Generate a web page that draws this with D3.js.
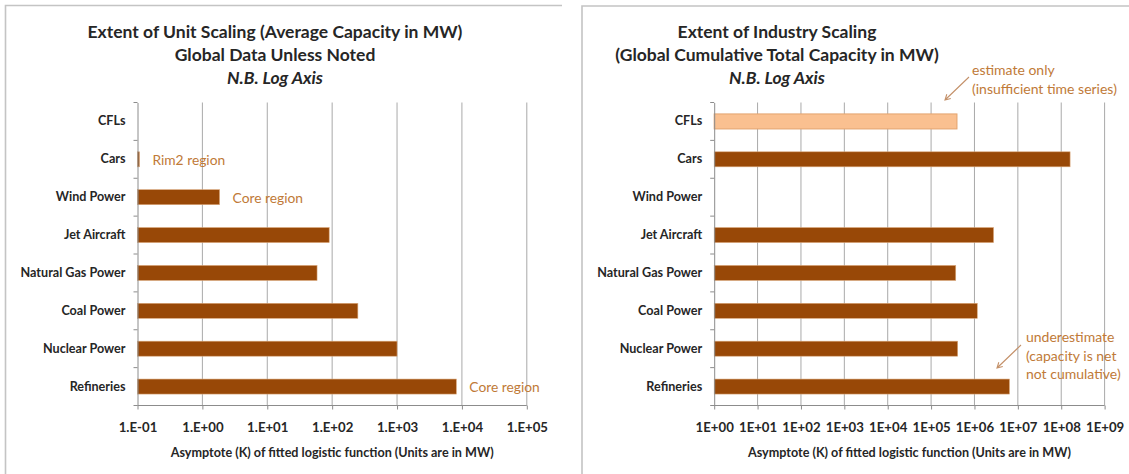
<!DOCTYPE html>
<html>
<head>
<meta charset="utf-8">
<script src="https://cdn.jsdelivr.net/npm/d3@7"></script>
<style>
  html, body { margin: 0; padding: 0; background: #ffffff; }
  svg { display: block; }
  text { font-family: Lato, "Open Sans", sans-serif; }
</style>
</head>
<body>
<svg id="chart" width="1129" height="474"></svg>
<script>
// ---------------- DATA ----------------
const categories = ["CFLs", "Cars", "Wind Power", "Jet Aircraft", "Natural Gas Power", "Coal Power", "Nuclear Power", "Refineries"];

// Left chart: unit scaling, average capacity (MW)
const unitValues = [null, 0.107, 1.84, 90, 58.5, 249, 1000, 8200];
const unitTicks = [0.1, 1, 10, 100, 1e3, 1e4, 1e5];
const unitTickLabels = ["1.E-01", "1.E+00", "1.E+01", "1.E+02", "1.E+03", "1.E+04", "1.E+05"];
const unitNoteCats = ["Cars", "Wind Power", "Refineries"];
const unitNoteTexts = ["Rim2 region", "Core region", "Core region"];
const unitTitle = ["Extent of Unit Scaling (Average Capacity in MW)", "Global Data Unless Noted", "N.B. Log Axis"];

// Right chart: industry scaling, global cumulative total capacity (MW)
const industryValues = [3.95e5, 1.6e8, null, 2.75e6, 3.7e5, 1.16e6, 4.1e5, 6.4e6];
const industryEstimated = [true, false, false, false, false, false, false, false];
const industryTicks = [1, 10, 100, 1e3, 1e4, 1e5, 1e6, 1e7, 1e8, 1e9];
const industryTickLabels = ["1E+00", "1E+01", "1E+02", "1E+03", "1E+04", "1E+05", "1E+06", "1E+07", "1E+08", "1E+09"];
const industryTitle = ["Extent of Industry Scaling", "(Global Cumulative Total Capacity in MW)", "N.B. Log Axis"];
const estimateNote = ["estimate only", "(insufficient time series)"];
const underNote = ["underestimate", "(capacity is net", "not cumulative)"];

const axisTitleText = "Asymptote (K) of fitted logistic function (Units are in MW)";

// ---------------- STYLE ----------------
const BAR = "#984807";
const BAR_LIGHT = "#fac090";
const NOTE = "#c07a38";
const ARROW = "#c4916a";
const GRID = "#a9a9a9";
const TEXT = "#262626";

const svg = d3.select("#chart");

// panel frames
function frame(x0, y0, x1) {
  svg.append("path")
    .attr("d", `M${x0},474 L${x0},${y0} L${x1},${y0}`)
    .attr("fill", "none").attr("stroke", "#c4c4c4").attr("stroke-width", 1.6);
}
frame(5.5, 5.5, 562);
frame(582, 6, 1129);

const plotTop = 102.5, plotBottom = 405.5;

function drawChart(opts) {
  const { xDomain, xRange, values, ticks, tickLabels, titleLines, titleX, estimated } = opts;
  const x = d3.scaleLog().domain(xDomain).range(xRange);
  const y = d3.scaleBand().domain(categories).range([plotTop, plotBottom])
    .paddingInner(0.604).paddingOuter(0.302);
  const g = svg.append("g");

  // gridlines
  g.selectAll(".grid").data(ticks.slice(1)).enter().append("line")
    .attr("x1", d => x(d)).attr("x2", d => x(d))
    .attr("y1", plotTop).attr("y2", plotBottom)
    .attr("stroke", GRID).attr("stroke-width", 1);

  // bars
  const rows = categories.map((c, i) => ({ c, v: values[i], est: estimated ? estimated[i] : false }))
    .filter(d => d.v != null);
  g.selectAll(".bar").data(rows).enter().append("rect")
    .attr("x", x(xDomain[0]))
    .attr("y", d => y(d.c))
    .attr("width", d => x(d.v) - x(xDomain[0]))
    .attr("height", y.bandwidth())
    .attr("fill", d => d.est ? BAR_LIGHT : BAR)
    .attr("stroke", d => d.est ? "#e3a46e" : "#d9a679")
    .attr("stroke-width", d => d.est ? 1 : 0.6);

  // y axis (category)
  const yAxis = d3.axisLeft(y).tickSize(0).tickPadding(12);
  const ya = g.append("g").attr("transform", `translate(${x(xDomain[0])},0)`).call(yAxis);
  ya.select(".domain").attr("stroke", "#8c8c8c");
  ya.selectAll("text").attr("fill", TEXT).attr("font-size", 12.6).attr("font-weight", 700)
    .style("font-family", "Lato, 'Open Sans', sans-serif");
  // category boundary ticks
  const bounds = d3.range(categories.length + 1).map(i => plotTop + i * y.step());
  g.selectAll(".ctick").data(bounds).enter().append("line")
    .attr("x1", x(xDomain[0]) - 4).attr("x2", x(xDomain[0]))
    .attr("y1", d => d).attr("y2", d => d)
    .attr("stroke", "#8c8c8c");

  // x axis
  const xAxis = d3.axisBottom(x).tickValues(ticks).tickSize(4).tickPadding(13)
    .tickFormat((d, i) => tickLabels[i]);
  const xa = g.append("g").attr("transform", `translate(0,${plotBottom})`).call(xAxis);
  xa.select(".domain").attr("stroke", "#8c8c8c").attr("d", `M${xRange[0]},0H${xRange[1]}`);
  xa.selectAll(".tick line").attr("stroke", "#8c8c8c");
  xa.selectAll("text").attr("fill", TEXT).attr("font-size", 13.2).attr("font-weight", 700)
    .style("font-family", "Lato, 'Open Sans', sans-serif");

  // axis title
  g.append("text").attr("x", (xRange[0] + xRange[1]) / 2).attr("y", 452)
    .attr("text-anchor", "middle").attr("dominant-baseline", "central")
    .attr("font-size", 12.6).attr("font-weight", 700).attr("fill", TEXT)
    .text(axisTitleText);

  // chart title
  const ty = [31.7, 54, 77.5];
  titleLines.forEach((t, i) => {
    g.append("text").attr("x", titleX).attr("y", ty[i])
      .attr("text-anchor", "middle").attr("dominant-baseline", "central")
      .attr("font-size", 17.5).attr("font-weight", 700)
      .attr("font-style", i === 2 ? "italic" : "normal")
      .attr("fill", TEXT).text(t);
  });
  return { x, y, g };
}

// Left chart
const L = drawChart({
  xDomain: [0.1, 1e5], xRange: [137.5, 526.8], values: unitValues,
  ticks: unitTicks, tickLabels: unitTickLabels, titleLines: unitTitle, titleX: 275
});
unitNoteCats.forEach((c, i) => {
  const v = unitValues[categories.indexOf(c)];
  L.g.append("text").attr("x", L.x(v) + 13).attr("y", L.y(c) + L.y.bandwidth() / 2)
    .attr("dominant-baseline", "central").attr("font-size", 13.8).attr("fill", NOTE)
    .text(unitNoteTexts[i]);
});

// Right chart
const R = drawChart({
  xDomain: [1, 1e9], xRange: [714.2, 1104.6], values: industryValues,
  ticks: industryTicks, tickLabels: industryTickLabels, titleLines: industryTitle, titleX: 777,
  estimated: industryEstimated
});

function note(lines, x0, y0, lh) {
  lines.forEach((t, i) => {
    R.g.append("text").attr("x", x0).attr("y", y0 + i * lh)
      .attr("dominant-baseline", "central").attr("font-size", 14).attr("fill", NOTE).text(t);
  });
}
function arrow(x1, y1, x2, y2) {
  const a = Math.atan2(y2 - y1, x2 - x1), h = 6, s = 0.5;
  R.g.append("path")
    .attr("d", `M${x1},${y1}L${x2},${y2}M${x2 - h * Math.cos(a - s)},${y2 - h * Math.sin(a - s)}L${x2},${y2}L${x2 - h * Math.cos(a + s)},${y2 - h * Math.sin(a + s)}`)
    .attr("fill", "none").attr("stroke", ARROW).attr("stroke-width", 1.1);
}
note(estimateNote, 972, 69, 19);
arrow(969, 77, 945, 100);
note(underNote, 1026, 336.7, 18.5);
arrow(1021, 345, 997, 368);
</script>
</body>
</html>
